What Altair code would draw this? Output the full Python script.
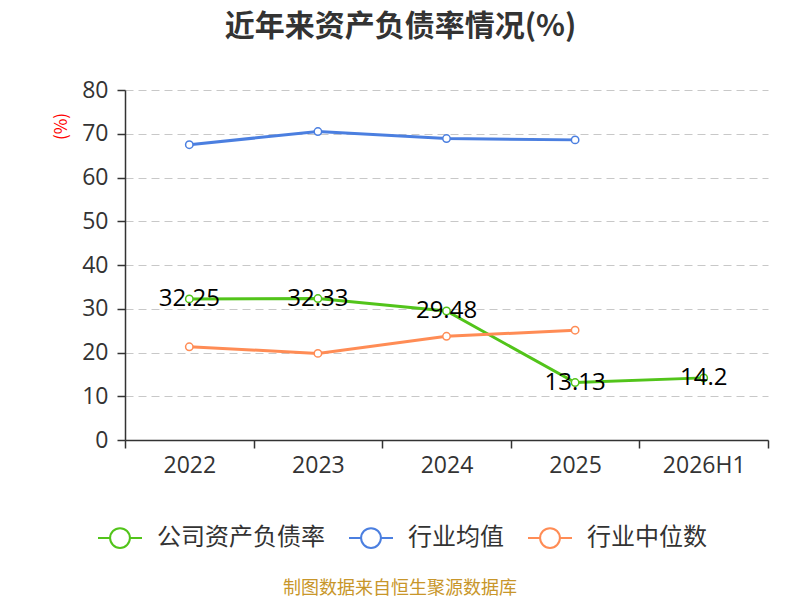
import pandas as pd
import altair as alt

years = ["2022", "2023", "2024", "2025", "2026H1"]
series_names = ["公司资产负债率", "行业均值", "行业中位数"]
company = [32.25, 32.33, 29.48, 13.13, 14.2]
industry_mean = [67.5, 70.5, 68.9, 68.6]
industry_median = [21.3, 19.8, 23.7, 25.1]
colors = ["#52c41a", "#4b7fe0", "#ff8c55"]

rows = []
for name, vals in zip(series_names, [company, industry_mean, industry_median]):
    for yr, v in zip(years, vals):
        rows.append({"year": yr, "series": name, "value": v, "label": f"{v:g}"})
df = pd.DataFrame(rows)

font = "Noto Sans CJK SC"
num_font = "Open Sans"
# legend symbol: short line, open circle, short line
sym = ("M-1,0L-0.45,0M0.45,0L1,0M-0.45,0"
       "A0.45,0.45,0,1,1,0.45,0A0.45,0.45,0,1,1,-0.45,0Z")

x = alt.X("year:N", sort=years, title=None,
          scale=alt.Scale(type="band", paddingInner=0, paddingOuter=0),
          axis=alt.Axis(labelAngle=0, tickBand="extent", labelFontSize=23,
                        labelColor="#333", labelPadding=6, tickSize=8,
                        domainColor="#333", tickColor="#333", domainWidth=1.5,
                        tickWidth=1.5, grid=False, labelFont=num_font))
y = alt.Y("value:Q", title="(%)",
          scale=alt.Scale(domain=[0, 80]),
          axis=alt.Axis(values=list(range(0, 90, 10)), labelFontSize=23,
                        labelColor="#333", tickSize=8, labelPadding=9,
                        domainColor="#333", tickColor="#333", domainWidth=1.5,
                        tickWidth=1.5, gridDash=[8, 5], gridColor="#c8c8c8",
                        titleColor="red", titleFontSize=17, titleFontWeight="normal",
                        titleX=-55, titleY=36, titleFont=font, labelFont=num_font))
color = alt.Color("series:N",
                  scale=alt.Scale(domain=series_names, range=colors),
                  legend=alt.Legend(title=None, orient="none", direction="horizontal",
                                    legendX=-28, legendY=425, symbolType=sym,
                                    symbolSize=1936, symbolStrokeWidth=2,
                                    labelFontSize=24, labelColor="#333",
                                    labelFont=font, labelOffset=14,
                                    labelLimit=400, columnPadding=20))

base = alt.Chart(df)
lines = base.mark_line(strokeWidth=3).encode(x=x, y=y, color=color)
points = base.mark_point(filled=False, fill="white", size=55, strokeWidth=1.5,
                         opacity=1).encode(x=x, y=y, color=color)
labels = (
    base.transform_filter(alt.datum.series == series_names[0])
    .mark_text(fontSize=24, color="black", baseline="middle", font=num_font)
    .encode(x=x, y=y, text="label:N")
)
source = (
    alt.Chart(pd.DataFrame({"t": ["制图数据来自恒生聚源数据库"]}))
    .mark_text(fontSize=18, color="#c8962a", font=font)
    .encode(x=alt.value(275), y=alt.value(499), text="t:N")
)

chart = (
    alt.layer(lines, points, labels, source)
    .properties(
        width=643, height=350,
        autosize=alt.AutoSizeParams(type="none"),
        padding={"left": 117, "top": 82, "right": 24, "bottom": 180},
        title=alt.TitleParams("近年来资产负债率情况(%)", fontSize=30,
                              fontWeight="bold", color="#333", font=font,
                              anchor="middle", dx=-46, offset=37),
    )
    .configure_view(stroke=None)
)

chart.save("out.html", embed_options={"renderer": "svg", "actions": False})
